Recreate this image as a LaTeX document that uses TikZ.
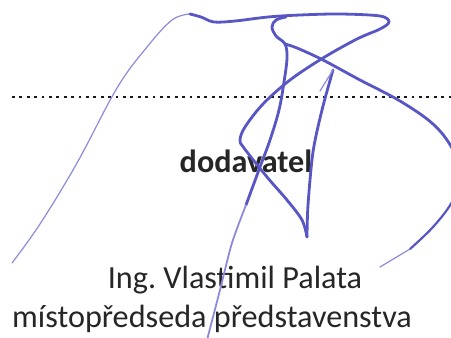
\documentclass[tikz,border=0pt]{standalone}
\usepackage{fontspec}
\setmainfont{Carlito}
\usetikzlibrary{positioning}

\begin{document}
\begin{tikzpicture}[x=0.5pt,y=-0.5pt,
    labeltext/.style={anchor=base,inner sep=0pt,text=black!85,font=\fontsize{16.1pt}{19pt}\selectfont},
    sigthick/.style={draw=ink,line width=1.4pt,line cap=round,line join=round},
    sigthin/.style={draw=inklight,line width=0.6pt,line cap=round,line join=round}
]

% Colours of the ink
\definecolor{ink}{RGB}{88,86,196}
\definecolor{inklight}{RGB}{140,138,220}

% Page size in pixels of the scan
\useasboundingbox[fill=white] (0,0) rectangle (451,338);

% Dotted signature line
\coordinate (rulestart) at (12,97);
\coordinate (ruleend) at (453,97);
\draw[line width=1.4pt,dash pattern=on 1.4pt off 2.3pt,black!90] (rulestart) -- (ruleend);

% Texts under the line
\node[labeltext,font=\fontsize{16.1pt}{19pt}\selectfont\bfseries] (role) at (246,172) {dodavatel};
\node[labeltext] (name) at (235,288) {Ing.\ Vlastimil Palata};
\node[labeltext] (title) at (212,327) {místopředseda představenstva};

% Signature: long thin upstroke
\draw[sigthin] plot[smooth,tension=0.6] coordinates
    {(12,263) (40,224) (77,163) (117,88) (147,47) (172,20) (190,14)};

% Signature: top line, return and the V
\draw[sigthick] plot[smooth,tension=0.55] coordinates
    {(190,14) (201,17) (214,22) (235,21) (268,17) (300,15) (340,14) (380,16) (389,22)
     (380,29) (357,39) (323,58) (290,80) (263,104) (245,127) (240,140) (244,148)
     (267,177) (287,200) (302,220) (307,237)};
\draw[sigthick] plot[smooth,tension=0.5] coordinates
    {(307,237) (308,205) (313,152) (322,110) (333,70)};
\draw[sigthin] (333,70) -- (320,91);

% Signature: loop and the long downstroke
\draw[sigthick] plot[smooth,tension=0.6] coordinates
    {(286,17) (276,20) (272,27) (276,36) (285,44) (287,58) (284,82) (279,110)
     (270,140) (260,167) (246,205)};
\draw[sigthin,line width=0.9pt] plot[smooth,tension=0.5] coordinates
    {(246,205) (232,243) (220,290) (207,340)};

% Signature: stroke to the right edge and back
\begin{scope}
\clip (0,0) rectangle (451,338);
\draw[sigthick] plot[smooth,tension=0.6] coordinates
    {(285,44) (297,48) (323,60) (360,80) (400,101) (433,124) (452,148) (462,175)};
\draw[sigthick,line width=1.1pt] plot[smooth,tension=0.6] coordinates
    {(462,175) (452,202) (433,227) (410,249)};
\draw[sigthin] (410,249) -- (380,267);
\end{scope}

\end{tikzpicture}
\end{document}
